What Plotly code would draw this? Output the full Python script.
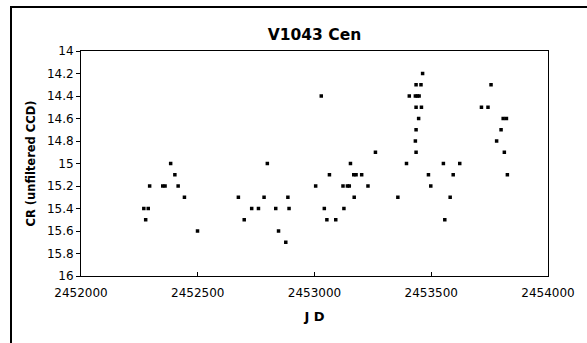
import plotly.graph_objects as go

jd = [2452269, 2452288, 2452277, 2452294, 2452350, 2452360, 2452384, 2452402,
      2452416, 2452443, 2452499, 2452674, 2452699, 2452731, 2452760, 2452784,
      2452798, 2452834, 2452846, 2452877, 2452886, 2452891, 2453005, 2453029,
      2453042, 2453053, 2453064, 2453091, 2453126, 2453122, 2453141, 2453149,
      2453154, 2453170, 2453168, 2453178, 2453202, 2453229, 2453261, 2453357,
      2453394, 2453406, 2453432, 2453440, 2453448, 2453435, 2453456, 2453435,
      2453458, 2453446, 2453435, 2453432, 2453435, 2453463, 2453488, 2453498,
      2453552, 2453558, 2453581, 2453594, 2453622, 2453715, 2453743, 2453756,
      2453799, 2453780, 2453813, 2453808, 2453822, 2453826]
cr = [15.4, 15.4, 15.5, 15.2, 15.2, 15.2, 15.0, 15.1,
      15.2, 15.3, 15.6, 15.3, 15.5, 15.4, 15.4, 15.3,
      15.0, 15.4, 15.6, 15.7, 15.3, 15.4, 15.2, 14.4,
      15.4, 15.5, 15.1, 15.5, 15.4, 15.2, 15.2, 15.2,
      15.0, 15.3, 15.1, 15.1, 15.1, 15.2, 14.9, 15.3,
      15.0, 14.4, 14.4, 14.4, 14.4, 14.3, 14.3, 14.5,
      14.5, 14.6, 14.7, 14.8, 14.9, 14.2, 15.1, 15.2,
      15.0, 15.5, 15.3, 15.1, 15.0, 14.5, 14.5, 14.3,
      14.7, 14.8, 14.9, 14.6, 14.6, 15.1]

x_ticks = [2452000, 2452500, 2453000, 2453500, 2454000]
y_ticks = [14, 14.2, 14.4, 14.6, 14.8, 15, 15.2, 15.4, 15.6, 15.8, 16]
y_labels = ["14", "14.2", "14.4", "14.6", "14.8", "15", "15.2", "15.4", "15.6", "15.8", "16"]

font = "DejaVu Sans, sans-serif"

fig = go.Figure()
fig.add_trace(go.Scatter(
    x=jd, y=cr, mode="markers",
    marker=dict(symbol="square", size=3.5, color="black", line=dict(width=0)),
    showlegend=False, cliponaxis=False,
))

fig.update_layout(
    width=587, height=343,
    margin=dict(l=81, r=39, t=51, b=67, autoexpand=False),
    paper_bgcolor="white", plot_bgcolor="white",
    font=dict(family=font, color="black", size=12),
    title=dict(text="<b>V1043 Cen</b>", x=(81 + 548) / 2 / 587, xanchor="center",
               y=1 - 35 / 343, yanchor="middle", font=dict(size=15.5, family=font)),
    xaxis=dict(
        range=[2452000, 2454000], tickvals=x_ticks, ticktext=[str(v) for v in x_ticks],
        ticks="inside", ticklen=4, tickcolor="black", showgrid=False, zeroline=False,
        showline=True, linecolor="black", linewidth=1, mirror=True, automargin=False,
        ticklabelstandoff=6,
        title=dict(text="<b>J D</b>", font=dict(size=13, family=font), standoff=12),
        tickfont=dict(size=12),
    ),
    yaxis=dict(
        range=[16, 14], tickvals=y_ticks, ticktext=y_labels,
        ticks="outside", ticklen=4, tickcolor="black", showgrid=False, zeroline=False,
        showline=True, linecolor="black", linewidth=1, mirror=True, automargin=False,
        title=dict(text="<b>CR (unfiltered CCD)</b>", font=dict(size=11.5, family=font), standoff=8),
        tickfont=dict(size=12),
    ),
)

# outer chart frame (left and top edges visible in the window)
def px_x(p):
    return (p - 81) / 467

def px_y(p):
    return (276 - p) / 225

fig.add_shape(type="line", xref="paper", yref="paper",
              x0=px_x(11), x1=px_x(11), y0=px_y(343), y1=px_y(6),
              line=dict(color="black", width=2), layer="above")
fig.add_shape(type="line", xref="paper", yref="paper",
              x0=px_x(10), x1=px_x(586), y0=px_y(7), y1=px_y(7),
              line=dict(color="black", width=2), layer="above")

post = (
    "document.body.style.margin='0';document.body.style.overflow='hidden';"
    "var fr=document.createElement('div');"
    "fr.style.cssText='position:absolute;left:10px;top:6px;width:700px;height:2px;"
    "background:#000;pointer-events:none;z-index:10;';"
    "document.body.appendChild(fr);"
)

fig.write_html("out.html", config={"displayModeBar": False}, post_script=post)
